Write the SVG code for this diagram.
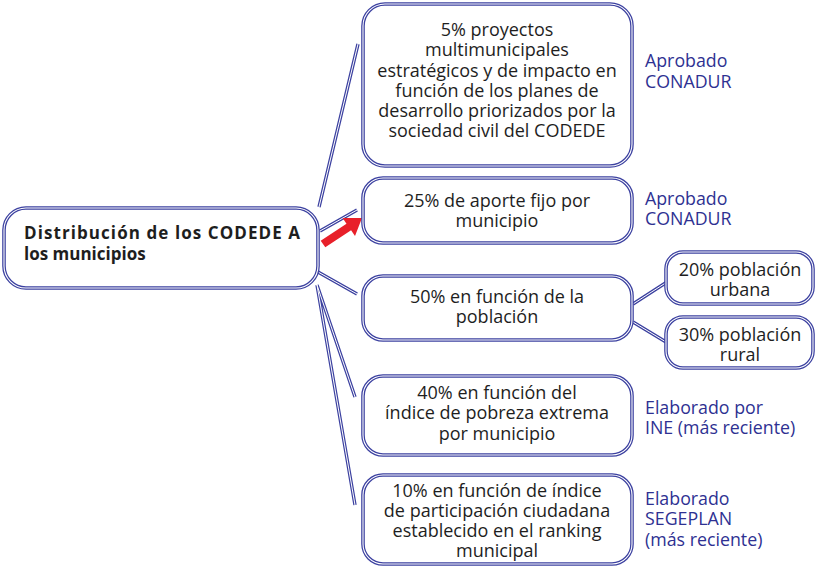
<svg xmlns="http://www.w3.org/2000/svg" width="816" height="567" viewBox="0 0 816 567">
<style>
.bo{fill:#fff;stroke:#3c41a0;stroke-width:3.6}
.bi{fill:none;stroke:#fff;stroke-width:1.1}
.co{stroke:#3c41a0;stroke-width:3.4;fill:none}
.ci{stroke:#fff;stroke-width:1;fill:none}
.t{font-family:"Open Sans","Noto Sans",sans-serif;font-size:18px;fill:#1e1e1e;text-anchor:middle}
.m{font-family:"Open Sans","Noto Sans",sans-serif;font-size:17px;font-weight:bold;fill:#1e1e1e}
.l{font-family:"Open Sans","Noto Sans",sans-serif;font-size:17.8px;fill:#2e3192}
</style>
<rect width="816" height="567" fill="#fff"/>
<g id="connectors">
<path class="co" d="M319 207L358 44M320 231L357 210M318 272L357 294M317 285L355 397M317 285L355 505M633 304L667 282M633 322L666 342"/>
<path class="ci" d="M319 207L358 44M320 231L357 210M318 272L357 294M317 285L355 397M317 285L355 505M633 304L667 282M633 322L666 342"/>
<path d="M320.7 240.7L346.5 223.7L342.6 217.9L362 218L355 236.1L351.1 230.3L325.3 247.3Z" fill="#e8202a"/>
</g>
<g id="main">
<rect class="bo" x="4" y="208" width="314" height="80" rx="22"/>
<rect class="bi" x="4" y="208" width="314" height="80" rx="22"/>
<text class="m" x="24" y="239" textLength="276" lengthAdjust="spacing">Distribución de los CODEDE A</text>
<text class="m" x="24" y="260">los municipios</text>
</g>
<g id="n1">
<rect class="bo" x="363" y="4" width="269" height="162" rx="22"/>
<rect class="bi" x="363" y="4" width="269" height="162" rx="22"/>
<text class="t" x="497" y="36">5% proyectos</text>
<text class="t" x="497" y="56">multimunicipales</text>
<text class="t" x="497" y="77">estratégicos y de impacto en</text>
<text class="t" x="497" y="97">función de los planes de</text>
<text class="t" x="497" y="117">desarrollo priorizados por la</text>
<text class="t" x="497" y="137">sociedad civil del CODEDE</text>
</g>
<g id="n2">
<rect class="bo" x="363" y="178" width="269" height="65" rx="20"/>
<rect class="bi" x="363" y="178" width="269" height="65" rx="20"/>
<text class="t" x="497" y="207">25% de aporte fijo por</text>
<text class="t" x="497" y="227">municipio</text>
</g>
<g id="n3">
<rect class="bo" x="363" y="276" width="269" height="64" rx="20"/>
<rect class="bi" x="363" y="276" width="269" height="64" rx="20"/>
<text class="t" x="497" y="303">50% en función de la</text>
<text class="t" x="497" y="323">población</text>
</g>
<g id="n4">
<rect class="bo" x="363" y="376" width="269" height="79" rx="20"/>
<rect class="bi" x="363" y="376" width="269" height="79" rx="20"/>
<text class="t" x="497" y="399">40% en función del</text>
<text class="t" x="497" y="419">índice de pobreza extrema</text>
<text class="t" x="497" y="440">por municipio</text>
</g>
<g id="n5">
<rect class="bo" x="363" y="475" width="269" height="89" rx="20"/>
<rect class="bi" x="363" y="475" width="269" height="89" rx="20"/>
<text class="t" x="497" y="497">10% en función de índice</text>
<text class="t" x="497" y="517">de participación ciudadana</text>
<text class="t" x="497" y="537">establecido en el ranking</text>
<text class="t" x="497" y="557">municipal</text>
</g>
<g id="n6">
<rect class="bo" x="666" y="252" width="147" height="52" rx="17"/>
<rect class="bi" x="666" y="252" width="147" height="52" rx="17"/>
<text class="t" x="740" y="276">20% población</text>
<text class="t" x="740" y="296">urbana</text>
</g>
<g id="n7">
<rect class="bo" x="666" y="317" width="147" height="51" rx="17"/>
<rect class="bi" x="666" y="317" width="147" height="51" rx="17"/>
<text class="t" x="740" y="341">30% población</text>
<text class="t" x="740" y="361">rural</text>
</g>
<g id="labels">
<text class="l" x="645" y="67">Aprobado</text>
<text class="l" x="645" y="88">CONADUR</text>
<text class="l" x="645" y="205">Aprobado</text>
<text class="l" x="645" y="225">CONADUR</text>
<text class="l" x="645" y="414">Elaborado por</text>
<text class="l" x="645" y="434">INE (más reciente)</text>
<text class="l" x="645" y="505">Elaborado</text>
<text class="l" x="645" y="525">SEGEPLAN</text>
<text class="l" x="645" y="546">(más reciente)</text>
</g>
</svg>
